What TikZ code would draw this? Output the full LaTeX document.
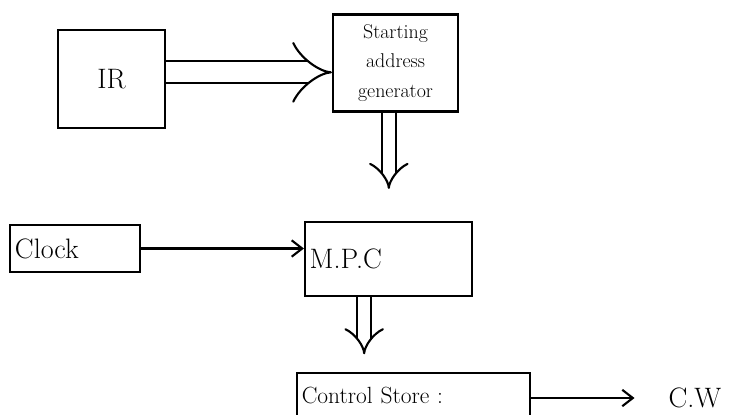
\documentclass[tikz,border=0pt]{standalone}
\usetikzlibrary{arrows.meta,positioning}
\begin{document}
\begin{tikzpicture}[x=0.03cm,y=-0.03cm,
  box/.style={draw,line width=1.8pt,inner sep=4pt},
  bus/.style={draw,line width=1.8pt,double,double distance=#1,-{Implies}},
  wire/.style={draw,line width=1.8pt,-{Straight Barb[length=9pt,width=14pt]}},
  every node/.style={font=\fontsize{24}{28}\selectfont}]
\useasboundingbox (0,0) rectangle (738,414);
\clip (0,0) rectangle (738,414);
% blocks
\node[box,minimum width=3.21cm,minimum height=2.94cm] (ir) at (111.5,79) {IR};
\node[box,minimum width=3.75cm,minimum height=2.91cm,align=center,
      font=\fontsize{17}{25}\selectfont] (sag) at (395.5,63) {Starting\\address\\generator};
\node[box,minimum width=3.9cm,minimum height=1.41cm,text width=3.6cm,align=left] (clk) at (75,248.5) {Clock};
\node[box,minimum height=2.22cm,text width=4.73cm,align=left] (mpc) at (388.5,259) {M.P.C};
\node[box,minimum height=1.3cm,text width=6.7cm,align=left,
      font=\fontsize{20}{24}\selectfont] (cs) at (413.5,395) {Control Store :};
\node (cw) at (695,398) {C.W};
% connections
\draw[bus=0.6cm] ([yshift=0.2cm]ir.east) -- ([yshift=0.2cm]ir.east -| sag.west);
\draw[bus=0.36cm,shorten >=0.96cm] ([xshift=-0.2cm]sag.south) -- ([xshift=-0.2cm]sag.south |- mpc.north);
\draw[wire] (clk) -- (clk -| mpc.west);
\draw[bus=0.36cm,shorten >=0.54cm] ([xshift=-0.73cm]mpc.south) -- ([xshift=-0.73cm]mpc.south |- cs.north);
\draw[wire,shorten >=0.9cm] (cs.east |- cw) -- (cw.west);
\end{tikzpicture}
\end{document}
